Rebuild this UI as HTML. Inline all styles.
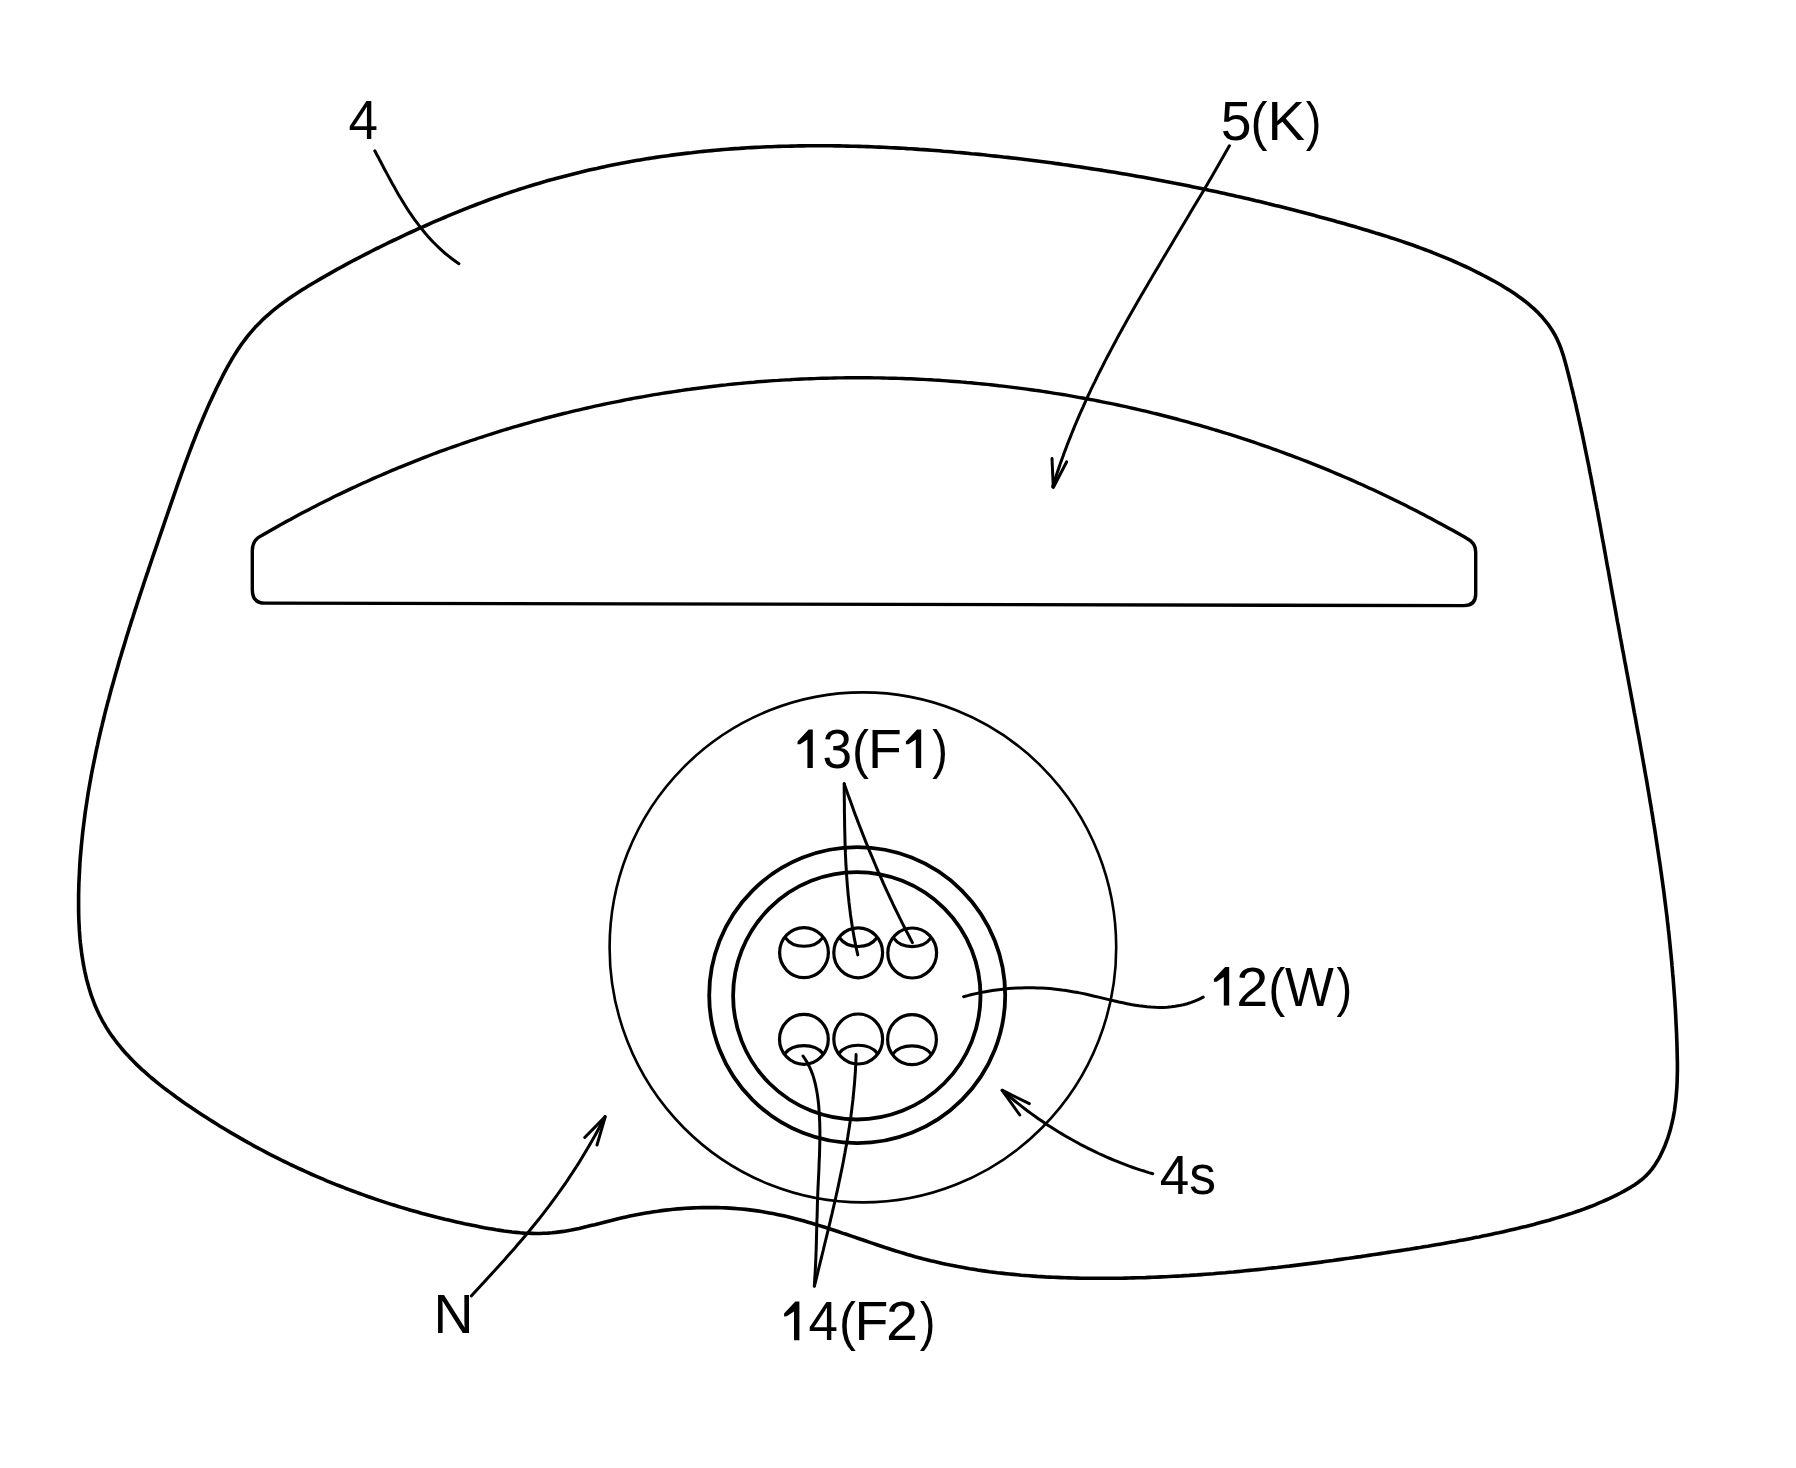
<!DOCTYPE html>
<html><head><meta charset="utf-8"><style>
html,body{margin:0;padding:0;background:#fff;}
body{width:1796px;height:1468px;overflow:hidden;}
svg{display:block;}
text{font-family:"Liberation Sans",sans-serif;font-size:100px;fill:#000;stroke:none;}
.t{fill:#000;stroke:none;}
</style></head><body>
<svg width="1796" height="1468" viewBox="0 0 1796 1468">
<g fill="none" stroke="#000" stroke-linecap="round" stroke-linejoin="round">
<path d="M78.6 895.0 L78.7 891.0 L78.8 887.0 L78.9 883.0 L79.1 879.1 L79.3 875.1 L79.5 871.1 L79.7 867.2 L79.9 863.2 L80.2 859.2 L80.5 855.3 L80.9 851.3 L81.2 847.3 L81.6 843.4 L82.0 839.4 L82.4 835.5 L82.8 831.5 L83.3 827.6 L83.8 823.6 L84.3 819.7 L84.8 815.7 L85.3 811.8 L85.9 807.9 L86.5 803.9 L87.1 800.0 L87.7 796.1 L88.3 792.1 L89.0 788.2 L89.7 784.3 L90.4 780.3 L91.1 776.4 L91.8 772.5 L92.6 768.6 L93.4 764.7 L94.2 760.7 L95.0 756.8 L95.8 752.9 L96.6 749.0 L97.5 745.1 L98.3 741.2 L99.2 737.3 L100.1 733.4 L101.0 729.5 L102.0 725.6 L102.9 721.7 L103.9 717.8 L104.8 713.9 L105.8 710.0 L106.8 706.1 L107.8 702.2 L108.9 698.4 L109.9 694.5 L110.9 690.6 L112.0 686.7 L113.1 682.9 L114.2 679.0 L115.3 675.1 L116.4 671.2 L117.5 667.4 L118.6 663.5 L119.7 659.6 L120.9 655.8 L122.0 651.9 L123.2 648.1 L124.4 644.2 L125.5 640.4 L126.7 636.5 L127.9 632.7 L129.1 628.8 L130.3 625.0 L131.5 621.1 L132.8 617.3 L134.0 613.5 L135.2 609.6 L136.5 605.8 L137.7 602.0 L139.0 598.1 L140.2 594.3 L141.5 590.5 L142.8 586.7 L144.0 582.8 L145.3 579.0 L146.6 575.2 L147.9 571.4 L149.1 567.6 L150.4 563.8 L151.7 560.0 L153.0 556.2 L154.3 552.4 L155.6 548.6 L156.9 544.8 L158.2 541.0 L159.5 537.2 L160.8 533.4 L162.1 529.6 L163.4 525.8 L164.7 522.0 L166.0 518.2 L167.3 514.5 L168.6 510.7 L169.9 506.9 L171.2 503.1 L172.5 499.4 L173.8 495.6 L175.1 491.8 L176.4 488.1 L177.7 484.3 L179.0 480.6 L180.4 476.8 L181.7 473.1 L183.1 469.3 L184.4 465.6 L185.8 461.8 L187.2 458.1 L188.6 454.4 L190.0 450.7 L191.4 447.0 L192.8 443.2 L194.3 439.5 L195.7 435.8 L197.2 432.1 L198.7 428.5 L200.2 424.8 L201.8 421.1 L203.3 417.4 L204.9 413.8 L206.5 410.1 L208.1 406.4 L209.7 402.8 L211.4 399.2 L213.1 395.5 L214.8 391.9 L216.5 388.3 L218.3 384.7 L220.1 381.1 L221.9 377.5 L223.7 373.9 L225.6 370.3 L227.5 366.8 L229.5 363.3 L231.5 359.8 L233.6 356.4 L235.7 353.0 L237.9 349.6 L240.1 346.3 L242.4 343.0 L244.8 339.8 L247.2 336.7 L249.7 333.6 L252.3 330.6 L254.9 327.6 L257.7 324.7 L260.5 321.9 L263.3 319.1 L266.3 316.4 L269.3 313.8 L272.3 311.2 L275.4 308.7 L278.6 306.2 L281.8 303.8 L285.0 301.4 L288.3 299.1 L291.6 296.8 L295.0 294.5 L298.4 292.3 L301.8 290.1 L305.2 288.0 L308.7 285.8 L312.1 283.7 L315.6 281.7 L319.1 279.6 L322.6 277.6 L326.1 275.6 L329.6 273.6 L333.1 271.6 L336.6 269.7 L340.1 267.7 L343.6 265.8 L347.1 263.9 L350.6 262.0 L354.2 260.1 L357.7 258.3 L361.2 256.5 L364.8 254.6 L368.3 252.8 L371.9 251.0 L375.4 249.2 L379.0 247.5 L382.6 245.7 L386.1 244.0 L389.7 242.2 L393.3 240.5 L396.9 238.8 L400.5 237.1 L404.1 235.4 L407.7 233.7 L411.3 232.0 L415.0 230.4 L418.6 228.7 L422.3 227.1 L425.9 225.5 L429.6 223.8 L433.2 222.2 L436.9 220.6 L440.6 219.1 L444.3 217.5 L448.0 215.9 L451.7 214.4 L455.4 212.9 L459.1 211.4 L462.8 209.9 L466.5 208.4 L470.3 206.9 L474.0 205.5 L477.7 204.0 L481.5 202.6 L485.2 201.2 L489.0 199.8 L492.8 198.4 L496.6 197.1 L500.3 195.8 L504.1 194.4 L507.9 193.1 L511.7 191.8 L515.5 190.6 L519.4 189.3 L523.2 188.1 L527.0 186.9 L530.8 185.7 L534.7 184.5 L538.5 183.4 L542.4 182.3 L546.2 181.1 L550.1 180.0 L554.0 179.0 L557.8 177.9 L561.7 176.9 L565.6 175.9 L569.5 174.9 L573.4 173.9 L577.3 172.9 L581.2 172.0 L585.1 171.0 L589.0 170.1 L592.9 169.2 L596.8 168.4 L600.7 167.5 L604.6 166.7 L608.6 165.8 L612.5 165.0 L616.4 164.3 L620.4 163.5 L624.3 162.7 L628.3 162.0 L632.2 161.3 L636.1 160.6 L640.1 159.9 L644.0 159.3 L648.0 158.6 L652.0 158.0 L655.9 157.4 L659.9 156.8 L663.8 156.2 L667.8 155.7 L671.8 155.1 L675.7 154.6 L679.7 154.1 L683.7 153.6 L687.6 153.1 L691.6 152.7 L695.6 152.2 L699.6 151.8 L703.5 151.4 L707.5 151.0 L711.5 150.6 L715.5 150.2 L719.5 149.9 L723.4 149.5 L727.4 149.2 L731.4 148.9 L735.4 148.6 L739.4 148.4 L743.4 148.1 L747.4 147.8 L751.3 147.6 L755.3 147.4 L759.3 147.2 L763.3 147.0 L767.3 146.8 L771.3 146.7 L775.3 146.5 L779.3 146.4 L783.3 146.3 L787.3 146.2 L791.3 146.1 L795.3 146.0 L799.3 145.9 L803.3 145.9 L807.3 145.8 L811.3 145.8 L815.3 145.8 L819.3 145.8 L823.3 145.8 L827.3 145.8 L831.3 145.8 L835.3 145.9 L839.3 145.9 L843.3 146.0 L847.3 146.1 L851.3 146.2 L855.3 146.3 L859.3 146.4 L863.3 146.5 L867.3 146.6 L871.3 146.8 L875.3 147.0 L879.4 147.1 L883.4 147.3 L887.4 147.5 L891.4 147.7 L895.4 147.9 L899.4 148.1 L903.4 148.3 L907.4 148.6 L911.4 148.8 L915.4 149.1 L919.4 149.4 L923.4 149.6 L927.4 149.9 L931.4 150.2 L935.4 150.5 L939.4 150.8 L943.4 151.2 L947.4 151.5 L951.4 151.8 L955.4 152.2 L959.4 152.5 L963.4 152.9 L967.4 153.3 L971.4 153.7 L975.4 154.0 L979.4 154.4 L983.4 154.8 L987.4 155.3 L991.4 155.7 L995.3 156.1 L999.3 156.5 L1003.3 157.0 L1007.3 157.4 L1011.3 157.9 L1015.3 158.3 L1019.3 158.8 L1023.3 159.3 L1027.2 159.8 L1031.2 160.3 L1035.2 160.8 L1039.2 161.3 L1043.2 161.8 L1047.1 162.3 L1051.1 162.8 L1055.1 163.4 L1059.1 163.9 L1063.0 164.5 L1067.0 165.0 L1071.0 165.6 L1074.9 166.2 L1078.9 166.8 L1082.9 167.4 L1086.8 168.0 L1090.8 168.6 L1094.8 169.2 L1098.7 169.8 L1102.7 170.4 L1106.6 171.1 L1110.6 171.7 L1114.6 172.3 L1118.5 173.0 L1122.5 173.7 L1126.4 174.3 L1130.4 175.0 L1134.3 175.7 L1138.3 176.4 L1142.2 177.1 L1146.1 177.8 L1150.1 178.5 L1154.0 179.2 L1158.0 180.0 L1161.9 180.7 L1165.8 181.5 L1169.8 182.2 L1173.7 183.0 L1177.6 183.7 L1181.6 184.5 L1185.5 185.3 L1189.4 186.1 L1193.3 186.9 L1197.3 187.7 L1201.2 188.5 L1205.1 189.3 L1209.0 190.2 L1212.9 191.0 L1216.8 191.8 L1220.8 192.7 L1224.7 193.5 L1228.6 194.4 L1232.5 195.3 L1236.4 196.2 L1240.3 197.0 L1244.2 197.9 L1248.1 198.8 L1252.0 199.7 L1255.9 200.7 L1259.8 201.6 L1263.6 202.5 L1267.5 203.5 L1271.4 204.4 L1275.3 205.4 L1279.2 206.3 L1283.1 207.3 L1286.9 208.3 L1290.8 209.3 L1294.7 210.3 L1298.5 211.3 L1302.4 212.3 L1306.3 213.3 L1310.1 214.3 L1314.0 215.3 L1317.9 216.4 L1321.7 217.4 L1325.6 218.5 L1329.4 219.5 L1333.3 220.6 L1337.1 221.7 L1341.0 222.7 L1344.8 223.8 L1348.6 224.9 L1352.5 226.0 L1356.3 227.1 L1360.1 228.3 L1364.0 229.4 L1367.8 230.5 L1371.6 231.7 L1375.4 232.9 L1379.2 234.0 L1383.0 235.2 L1386.9 236.4 L1390.7 237.7 L1394.5 238.9 L1398.2 240.1 L1402.0 241.4 L1405.8 242.7 L1409.6 244.0 L1413.3 245.3 L1417.1 246.7 L1420.9 248.1 L1424.6 249.5 L1428.4 250.9 L1432.1 252.3 L1435.8 253.8 L1439.5 255.3 L1443.3 256.8 L1447.0 258.3 L1450.7 259.9 L1454.3 261.5 L1458.0 263.2 L1461.7 264.8 L1465.4 266.5 L1469.0 268.2 L1472.7 270.0 L1476.3 271.8 L1479.9 273.6 L1483.5 275.5 L1487.1 277.4 L1490.7 279.3 L1494.3 281.3 L1497.9 283.3 L1501.4 285.3 L1504.9 287.5 L1508.4 289.6 L1511.8 291.8 L1515.2 294.1 L1518.5 296.4 L1521.8 298.8 L1525.0 301.2 L1528.1 303.7 L1531.1 306.3 L1534.1 308.9 L1537.0 311.6 L1539.7 314.4 L1542.4 317.3 L1544.9 320.3 L1547.3 323.3 L1549.6 326.4 L1551.8 329.7 L1553.8 333.0 L1555.7 336.4 L1557.4 339.9 L1559.0 343.5 L1560.5 347.2 L1561.8 351.0 L1563.1 354.8 L1564.2 358.6 L1565.3 362.5 L1566.4 366.5 L1567.4 370.4 L1568.4 374.3 L1569.4 378.2 L1570.4 382.1 L1571.3 386.1 L1572.3 390.0 L1573.2 393.9 L1574.1 397.8 L1575.1 401.7 L1576.0 405.6 L1576.8 409.5 L1577.7 413.4 L1578.6 417.3 L1579.4 421.2 L1580.3 425.1 L1581.1 429.0 L1582.0 432.9 L1582.8 436.8 L1583.6 440.7 L1584.4 444.7 L1585.2 448.6 L1586.0 452.5 L1586.8 456.4 L1587.6 460.3 L1588.4 464.2 L1589.2 468.2 L1589.9 472.1 L1590.7 476.0 L1591.5 479.9 L1592.2 483.9 L1593.0 487.8 L1593.7 491.7 L1594.5 495.7 L1595.2 499.6 L1596.0 503.5 L1596.7 507.5 L1597.5 511.4 L1598.2 515.4 L1598.9 519.3 L1599.7 523.3 L1600.4 527.2 L1601.1 531.2 L1601.8 535.1 L1602.5 539.0 L1603.3 543.0 L1604.0 546.9 L1604.7 550.9 L1605.4 554.8 L1606.1 558.8 L1606.8 562.7 L1607.5 566.7 L1608.3 570.6 L1609.0 574.6 L1609.7 578.6 L1610.4 582.5 L1611.1 586.5 L1611.8 590.4 L1612.5 594.4 L1613.2 598.3 L1614.0 602.3 L1614.7 606.2 L1615.4 610.1 L1616.1 614.1 L1616.8 618.0 L1617.5 622.0 L1618.3 625.9 L1619.0 629.9 L1619.7 633.8 L1620.4 637.8 L1621.2 641.7 L1621.9 645.6 L1622.6 649.6 L1623.4 653.5 L1624.1 657.5 L1624.8 661.4 L1625.6 665.3 L1626.3 669.3 L1627.0 673.2 L1627.8 677.1 L1628.5 681.1 L1629.2 685.0 L1630.0 689.0 L1630.7 692.9 L1631.4 696.8 L1632.2 700.8 L1632.9 704.7 L1633.6 708.6 L1634.3 712.6 L1635.1 716.5 L1635.8 720.4 L1636.5 724.4 L1637.2 728.3 L1637.9 732.2 L1638.7 736.2 L1639.4 740.1 L1640.1 744.0 L1640.8 748.0 L1641.5 751.9 L1642.2 755.8 L1642.9 759.8 L1643.6 763.7 L1644.3 767.6 L1645.0 771.6 L1645.7 775.5 L1646.4 779.4 L1647.1 783.4 L1647.7 787.3 L1648.4 791.3 L1649.1 795.2 L1649.7 799.1 L1650.4 803.1 L1651.1 807.0 L1651.7 811.0 L1652.4 814.9 L1653.0 818.9 L1653.6 822.8 L1654.3 826.7 L1654.9 830.7 L1655.5 834.6 L1656.1 838.6 L1656.7 842.5 L1657.3 846.5 L1657.9 850.4 L1658.5 854.4 L1659.1 858.4 L1659.7 862.3 L1660.3 866.3 L1660.8 870.2 L1661.4 874.2 L1661.9 878.1 L1662.5 882.1 L1663.0 886.1 L1663.6 890.0 L1664.1 894.0 L1664.6 898.0 L1665.1 901.9 L1665.6 905.9 L1666.1 909.9 L1666.6 913.9 L1667.1 917.8 L1667.5 921.8 L1668.0 925.8 L1668.4 929.8 L1668.9 933.8 L1669.3 937.8 L1669.7 941.7 L1670.1 945.7 L1670.5 949.7 L1670.9 953.7 L1671.3 957.7 L1671.7 961.7 L1672.0 965.7 L1672.4 969.7 L1672.7 973.7 L1673.1 977.7 L1673.4 981.8 L1673.7 985.8 L1674.0 989.8 L1674.3 993.8 L1674.6 997.8 L1674.9 1001.8 L1675.1 1005.9 L1675.4 1009.9 L1675.6 1013.9 L1675.8 1018.0 L1676.0 1022.0 L1676.2 1026.0 L1676.4 1030.1 L1676.6 1034.1 L1676.7 1038.2 L1676.9 1042.2 L1677.0 1046.3 L1677.1 1050.3 L1677.2 1054.4 L1677.3 1058.4 L1677.4 1062.5 L1677.4 1066.5 L1677.4 1070.6 L1677.3 1074.6 L1677.2 1078.6 L1677.1 1082.7 L1676.9 1086.7 L1676.6 1090.7 L1676.3 1094.7 L1676.0 1098.6 L1675.5 1102.6 L1675.0 1106.5 L1674.5 1110.5 L1673.8 1114.4 L1673.1 1118.2 L1672.2 1122.1 L1671.3 1125.9 L1670.3 1129.7 L1669.2 1133.5 L1668.0 1137.3 L1666.7 1141.0 L1665.3 1144.7 L1663.8 1148.3 L1662.1 1152.0 L1660.4 1155.6 L1658.5 1159.1 L1656.4 1162.5 L1654.3 1165.9 L1651.9 1169.1 L1649.4 1172.2 L1646.7 1175.1 L1643.8 1177.8 L1640.8 1180.3 L1637.6 1182.7 L1634.4 1184.9 L1631.0 1187.1 L1627.5 1189.1 L1624.0 1191.1 L1620.5 1193.0 L1616.9 1194.8 L1613.3 1196.6 L1609.7 1198.3 L1606.0 1200.0 L1602.3 1201.7 L1598.6 1203.2 L1594.9 1204.8 L1591.2 1206.3 L1587.4 1207.7 L1583.7 1209.1 L1579.9 1210.5 L1576.1 1211.8 L1572.3 1213.1 L1568.5 1214.3 L1564.6 1215.6 L1560.8 1216.7 L1556.9 1217.9 L1553.1 1219.0 L1549.2 1220.2 L1545.3 1221.2 L1541.4 1222.3 L1537.6 1223.3 L1533.7 1224.4 L1529.8 1225.4 L1525.9 1226.4 L1522.0 1227.3 L1518.1 1228.3 L1514.2 1229.2 L1510.3 1230.1 L1506.4 1231.0 L1502.5 1231.9 L1498.6 1232.8 L1494.7 1233.6 L1490.8 1234.4 L1486.9 1235.3 L1482.9 1236.1 L1479.0 1236.9 L1475.1 1237.6 L1471.2 1238.4 L1467.2 1239.2 L1463.3 1239.9 L1459.4 1240.6 L1455.5 1241.4 L1451.5 1242.1 L1447.6 1242.8 L1443.7 1243.5 L1439.7 1244.2 L1435.8 1244.8 L1431.8 1245.5 L1427.9 1246.2 L1423.9 1246.8 L1420.0 1247.5 L1416.0 1248.1 L1412.1 1248.7 L1408.2 1249.4 L1404.2 1250.0 L1400.2 1250.6 L1396.3 1251.2 L1392.3 1251.8 L1388.4 1252.4 L1384.4 1253.0 L1380.5 1253.6 L1376.5 1254.2 L1372.5 1254.8 L1368.6 1255.4 L1364.6 1256.0 L1360.7 1256.6 L1356.7 1257.1 L1352.7 1257.7 L1348.8 1258.3 L1344.8 1258.8 L1340.8 1259.4 L1336.9 1259.9 L1332.9 1260.5 L1328.9 1261.0 L1324.9 1261.5 L1321.0 1262.1 L1317.0 1262.6 L1313.0 1263.1 L1309.1 1263.6 L1305.1 1264.1 L1301.1 1264.6 L1297.1 1265.1 L1293.1 1265.6 L1289.2 1266.1 L1285.2 1266.5 L1281.2 1267.0 L1277.2 1267.5 L1273.2 1267.9 L1269.3 1268.3 L1265.3 1268.8 L1261.3 1269.2 L1257.3 1269.6 L1253.3 1270.0 L1249.3 1270.4 L1245.3 1270.8 L1241.3 1271.2 L1237.4 1271.6 L1233.4 1272.0 L1229.4 1272.3 L1225.4 1272.7 L1221.4 1273.0 L1217.4 1273.3 L1213.4 1273.7 L1209.4 1274.0 L1205.4 1274.3 L1201.4 1274.6 L1197.4 1274.9 L1193.4 1275.1 L1189.4 1275.4 L1185.4 1275.6 L1181.4 1275.9 L1177.4 1276.1 L1173.4 1276.3 L1169.4 1276.5 L1165.4 1276.7 L1161.4 1276.9 L1157.4 1277.1 L1153.4 1277.3 L1149.4 1277.4 L1145.4 1277.6 L1141.4 1277.7 L1137.4 1277.8 L1133.4 1277.9 L1129.4 1278.0 L1125.4 1278.1 L1121.4 1278.2 L1117.4 1278.2 L1113.4 1278.3 L1109.4 1278.3 L1105.4 1278.3 L1101.4 1278.3 L1097.3 1278.3 L1093.3 1278.3 L1089.3 1278.3 L1085.3 1278.2 L1081.3 1278.2 L1077.3 1278.1 L1073.3 1278.0 L1069.3 1277.9 L1065.3 1277.8 L1061.3 1277.6 L1057.3 1277.4 L1053.3 1277.3 L1049.3 1277.1 L1045.3 1276.9 L1041.3 1276.6 L1037.3 1276.4 L1033.3 1276.1 L1029.3 1275.8 L1025.3 1275.5 L1021.3 1275.2 L1017.3 1274.8 L1013.3 1274.4 L1009.3 1274.0 L1005.4 1273.6 L1001.4 1273.1 L997.4 1272.7 L993.5 1272.2 L989.5 1271.7 L985.5 1271.1 L981.6 1270.6 L977.6 1270.0 L973.7 1269.3 L969.7 1268.7 L965.8 1268.0 L961.9 1267.3 L957.9 1266.6 L954.0 1265.8 L950.1 1265.1 L946.2 1264.3 L942.3 1263.4 L938.4 1262.5 L934.5 1261.6 L930.6 1260.7 L926.7 1259.7 L922.8 1258.8 L919.0 1257.7 L915.1 1256.7 L911.2 1255.6 L907.4 1254.5 L903.6 1253.3 L899.7 1252.1 L895.9 1251.0 L892.0 1249.7 L888.2 1248.5 L884.4 1247.3 L880.6 1246.0 L876.8 1244.7 L872.9 1243.4 L869.1 1242.1 L865.3 1240.8 L861.5 1239.5 L857.7 1238.2 L853.9 1236.9 L850.1 1235.6 L846.3 1234.3 L842.4 1233.1 L838.6 1231.8 L834.8 1230.5 L831.0 1229.3 L827.2 1228.0 L823.3 1226.8 L819.5 1225.6 L815.7 1224.4 L811.8 1223.3 L808.0 1222.2 L804.2 1221.1 L800.3 1220.0 L796.4 1219.0 L792.6 1218.0 L788.7 1217.0 L784.8 1216.1 L780.9 1215.2 L777.0 1214.4 L773.1 1213.6 L769.2 1212.9 L765.3 1212.2 L761.4 1211.5 L757.4 1210.9 L753.5 1210.4 L749.5 1209.9 L745.6 1209.4 L741.6 1209.0 L737.6 1208.7 L733.7 1208.4 L729.7 1208.1 L725.7 1207.9 L721.7 1207.8 L717.7 1207.6 L713.7 1207.6 L709.7 1207.5 L705.7 1207.6 L701.7 1207.6 L697.7 1207.7 L693.7 1207.9 L689.7 1208.1 L685.7 1208.3 L681.7 1208.6 L677.7 1208.9 L673.7 1209.3 L669.7 1209.7 L665.7 1210.1 L661.7 1210.6 L657.7 1211.2 L653.7 1211.7 L649.7 1212.4 L645.8 1213.0 L641.8 1213.7 L637.8 1214.5 L633.9 1215.2 L629.9 1216.1 L626.0 1216.9 L622.1 1217.8 L618.1 1218.7 L614.2 1219.7 L610.3 1220.7 L606.4 1221.7 L602.5 1222.7 L598.6 1223.7 L594.7 1224.7 L590.8 1225.6 L586.9 1226.6 L583.0 1227.5 L579.1 1228.4 L575.2 1229.2 L571.4 1230.0 L567.4 1230.7 L563.5 1231.4 L559.6 1231.9 L555.7 1232.4 L551.8 1232.8 L547.8 1233.1 L543.9 1233.3 L539.9 1233.5 L536.0 1233.5 L532.0 1233.4 L528.0 1233.3 L524.1 1233.1 L520.1 1232.8 L516.1 1232.4 L512.1 1232.0 L508.1 1231.5 L504.1 1231.0 L500.2 1230.4 L496.2 1229.8 L492.2 1229.1 L488.2 1228.4 L484.2 1227.7 L480.3 1226.9 L476.3 1226.1 L472.3 1225.3 L468.4 1224.5 L464.4 1223.7 L460.5 1222.8 L456.6 1221.9 L452.6 1221.0 L448.7 1220.1 L444.8 1219.2 L440.9 1218.2 L437.0 1217.3 L433.1 1216.3 L429.2 1215.3 L425.3 1214.2 L421.4 1213.2 L417.5 1212.1 L413.7 1211.0 L409.8 1209.9 L406.0 1208.8 L402.1 1207.6 L398.3 1206.5 L394.5 1205.3 L390.6 1204.1 L386.8 1202.9 L383.0 1201.6 L379.2 1200.4 L375.4 1199.1 L371.6 1197.8 L367.8 1196.5 L364.1 1195.1 L360.3 1193.8 L356.6 1192.4 L352.8 1191.0 L349.1 1189.6 L345.3 1188.2 L341.6 1186.7 L337.9 1185.3 L334.2 1183.8 L330.5 1182.3 L326.8 1180.8 L323.1 1179.2 L319.4 1177.6 L315.8 1176.1 L312.1 1174.5 L308.5 1172.8 L304.8 1171.2 L301.2 1169.5 L297.5 1167.9 L293.9 1166.2 L290.3 1164.5 L286.7 1162.7 L283.1 1161.0 L279.5 1159.2 L276.0 1157.4 L272.4 1155.6 L268.9 1153.8 L265.3 1151.9 L261.8 1150.0 L258.2 1148.2 L254.7 1146.3 L251.2 1144.3 L247.7 1142.4 L244.2 1140.4 L240.7 1138.4 L237.3 1136.4 L233.8 1134.4 L230.3 1132.4 L226.9 1130.3 L223.5 1128.3 L220.0 1126.2 L216.6 1124.0 L213.2 1121.9 L209.8 1119.8 L206.4 1117.6 L203.1 1115.4 L199.7 1113.2 L196.3 1111.0 L193.0 1108.7 L189.7 1106.4 L186.3 1104.2 L183.0 1101.9 L179.7 1099.5 L176.4 1097.2 L173.2 1094.8 L169.9 1092.4 L166.7 1090.0 L163.5 1087.6 L160.3 1085.1 L157.2 1082.6 L154.1 1080.0 L151.0 1077.5 L148.0 1074.9 L145.0 1072.2 L142.0 1069.6 L139.1 1066.9 L136.2 1064.1 L133.4 1061.3 L130.7 1058.5 L128.0 1055.6 L125.3 1052.7 L122.7 1049.7 L120.2 1046.7 L117.7 1043.7 L115.3 1040.5 L113.0 1037.4 L110.7 1034.2 L108.5 1030.9 L106.4 1027.6 L104.4 1024.2 L102.4 1020.8 L100.6 1017.3 L98.8 1013.7 L97.1 1010.1 L95.5 1006.5 L94.0 1002.7 L92.6 998.9 L91.2 995.1 L90.0 991.2 L88.8 987.3 L87.7 983.3 L86.6 979.4 L85.7 975.3 L84.8 971.3 L84.0 967.3 L83.2 963.2 L82.6 959.2 L81.9 955.1 L81.4 951.1 L80.9 947.0 L80.4 943.0 L80.0 939.0 L79.7 934.9 L79.4 930.9 L79.2 926.9 L79.0 922.9 L78.8 918.9 L78.7 914.9 L78.6 910.9 L78.6 906.9 L78.6 902.9 L78.6 899.0 L78.6 895.0 Z" stroke-width="3.6"/>
<path d="M262.2 535.3 L265.7 533.2 L269.2 531.2 L272.7 529.2 L276.2 527.2 L279.7 525.2 L283.3 523.3 L286.8 521.3 L290.4 519.4 L293.9 517.4 L297.5 515.5 L301.1 513.6 L304.6 511.7 L308.2 509.9 L311.8 508.0 L315.4 506.2 L319.0 504.3 L322.6 502.5 L326.2 500.7 L329.8 498.9 L333.4 497.1 L337.1 495.3 L340.7 493.6 L344.3 491.9 L348.0 490.1 L351.6 488.4 L355.3 486.7 L358.9 485.0 L362.6 483.3 L366.3 481.7 L370.0 480.0 L373.6 478.4 L377.3 476.8 L381.0 475.2 L384.7 473.6 L388.4 472.0 L392.1 470.4 L395.9 468.9 L399.6 467.3 L403.3 465.8 L407.0 464.3 L410.8 462.8 L414.5 461.3 L418.3 459.8 L422.0 458.4 L425.8 456.9 L429.5 455.5 L433.3 454.0 L437.0 452.6 L440.8 451.2 L444.6 449.9 L448.4 448.5 L452.2 447.1 L456.0 445.8 L459.8 444.5 L463.6 443.1 L467.4 441.8 L471.2 440.5 L475.0 439.3 L478.8 438.0 L482.6 436.8 L486.5 435.5 L490.3 434.3 L494.1 433.1 L498.0 431.9 L501.8 430.7 L505.6 429.5 L509.5 428.4 L513.3 427.2 L517.2 426.1 L521.1 425.0 L524.9 423.9 L528.8 422.8 L532.7 421.7 L536.5 420.6 L540.4 419.6 L544.3 418.5 L548.2 417.5 L552.1 416.5 L556.0 415.5 L559.9 414.5 L563.8 413.5 L567.7 412.6 L571.6 411.6 L575.5 410.7 L579.4 409.8 L583.3 408.9 L587.2 408.0 L591.2 407.1 L595.1 406.2 L599.0 405.3 L602.9 404.5 L606.9 403.7 L610.8 402.9 L614.7 402.1 L618.7 401.3 L622.6 400.5 L626.6 399.7 L630.5 399.0 L634.5 398.2 L638.4 397.5 L642.4 396.8 L646.3 396.1 L650.3 395.4 L654.3 394.7 L658.2 394.1 L662.2 393.4 L666.2 392.8 L670.1 392.2 L674.1 391.6 L678.1 391.0 L682.1 390.4 L686.0 389.8 L690.0 389.3 L694.0 388.7 L698.0 388.2 L702.0 387.7 L706.0 387.2 L710.0 386.7 L713.9 386.2 L717.9 385.8 L721.9 385.3 L725.9 384.9 L729.9 384.4 L733.9 384.0 L737.9 383.6 L741.9 383.3 L745.9 382.9 L749.9 382.5 L753.9 382.2 L757.9 381.8 L762.0 381.5 L766.0 381.2 L770.0 380.9 L774.0 380.6 L778.0 380.4 L782.0 380.1 L786.0 379.9 L790.0 379.7 L794.1 379.4 L798.1 379.2 L802.1 379.0 L806.1 378.9 L810.1 378.7 L814.1 378.6 L818.2 378.4 L822.2 378.3 L826.2 378.2 L830.2 378.1 L834.2 378.0 L838.3 377.9 L842.3 377.9 L846.3 377.8 L850.3 377.8 L854.3 377.8 L858.4 377.8 L862.4 377.8 L866.4 377.8 L870.4 377.8 L874.5 377.9 L878.5 377.9 L882.5 378.0 L886.5 378.1 L890.5 378.2 L894.6 378.3 L898.6 378.4 L902.6 378.5 L906.6 378.7 L910.6 378.8 L914.7 379.0 L918.7 379.2 L922.7 379.4 L926.7 379.6 L930.7 379.8 L934.8 380.1 L938.8 380.3 L942.8 380.6 L946.8 380.9 L950.8 381.2 L954.8 381.5 L958.8 381.8 L962.8 382.1 L966.8 382.5 L970.9 382.8 L974.9 383.2 L978.9 383.6 L982.9 384.0 L986.9 384.4 L990.9 384.8 L994.9 385.2 L998.9 385.7 L1002.9 386.1 L1006.9 386.6 L1010.9 387.1 L1014.8 387.6 L1018.8 388.1 L1022.8 388.6 L1026.8 389.1 L1030.8 389.7 L1034.8 390.3 L1038.8 390.8 L1042.7 391.4 L1046.7 392.0 L1050.7 392.6 L1054.7 393.3 L1058.6 393.9 L1062.6 394.5 L1066.6 395.2 L1070.5 395.9 L1074.5 396.6 L1078.5 397.3 L1082.4 398.0 L1086.4 398.7 L1090.3 399.5 L1094.3 400.2 L1098.2 401.0 L1102.2 401.8 L1106.1 402.6 L1110.1 403.4 L1114.0 404.2 L1117.9 405.0 L1121.9 405.9 L1125.8 406.7 L1129.7 407.6 L1133.7 408.5 L1137.6 409.4 L1141.5 410.3 L1145.4 411.2 L1149.3 412.1 L1153.2 413.1 L1157.1 414.0 L1161.0 415.0 L1164.9 416.0 L1168.8 417.0 L1172.7 418.0 L1176.6 419.0 L1180.5 420.1 L1184.4 421.1 L1188.3 422.2 L1192.2 423.3 L1196.0 424.3 L1199.9 425.4 L1203.8 426.6 L1207.6 427.7 L1211.5 428.8 L1215.3 430.0 L1219.2 431.1 L1223.0 432.3 L1226.9 433.5 L1230.7 434.7 L1234.6 435.9 L1238.4 437.1 L1242.2 438.4 L1246.0 439.6 L1249.9 440.9 L1253.7 442.2 L1257.5 443.5 L1261.3 444.8 L1265.1 446.1 L1268.9 447.4 L1272.7 448.8 L1276.5 450.1 L1280.2 451.5 L1284.0 452.9 L1287.8 454.3 L1291.6 455.7 L1295.3 457.1 L1299.1 458.5 L1302.9 460.0 L1306.6 461.4 L1310.4 462.9 L1314.1 464.4 L1317.8 465.9 L1321.6 467.4 L1325.3 468.9 L1329.0 470.4 L1332.7 472.0 L1336.4 473.6 L1340.1 475.1 L1343.8 476.7 L1347.5 478.3 L1351.2 479.9 L1354.9 481.5 L1358.6 483.2 L1362.3 484.8 L1365.9 486.5 L1369.6 488.2 L1373.3 489.8 L1376.9 491.5 L1380.6 493.3 L1384.2 495.0 L1387.8 496.7 L1391.5 498.5 L1395.1 500.2 L1398.7 502.0 L1402.3 503.8 L1405.9 505.6 L1409.5 507.4 L1413.1 509.2 L1416.7 511.1 L1420.3 512.9 L1423.9 514.8 L1427.4 516.7 L1431.0 518.5 L1434.5 520.4 L1438.1 522.4 L1441.6 524.3 L1445.2 526.2 L1448.7 528.2 L1452.2 530.1 L1455.7 532.1 L1459.3 534.1 L1462.8 536.1 L1466.3 538.1 Q1475.7 542.5 1475.7 552 L1475.7 594 Q1475.7 605.6 1464 605.6 L265 603.1 Q252.3 603.1 252.3 590 L252.3 550.7 Q252.3 539.5 262.2 535.3 Z" stroke-width="3.4"/>
<ellipse cx="862.9" cy="947.4" rx="253.3" ry="255" stroke-width="2.6"/>
<circle cx="857.2" cy="995.2" r="148" stroke-width="3.8"/>
<circle cx="856.8" cy="995.8" r="123.7" stroke-width="3.8"/>
<ellipse cx="804.0" cy="952.6" rx="24.4" ry="25" stroke-width="3.2"/>
<path d="M785.5 937.8 C793.5 949.1 814.5 949.1 822.5 937.8" stroke-width="3.2"/>
<ellipse cx="858.2" cy="952.8" rx="24.4" ry="25" stroke-width="3.2"/>
<path d="M839.7 938.0 C847.7 949.3 868.7 949.3 876.7 938.0" stroke-width="3.2"/>
<ellipse cx="912.2" cy="953.0" rx="24.4" ry="25" stroke-width="3.2"/>
<path d="M893.7 938.2 C901.7 949.5 922.7 949.5 930.7 938.2" stroke-width="3.2"/>
<ellipse cx="803.9" cy="1039.3" rx="24.4" ry="25" stroke-width="3.2"/>
<path d="M784.9 1053.5 C792.9 1042.9 814.9 1042.9 822.9 1053.5" stroke-width="3.2"/>
<ellipse cx="858.2" cy="1039.0" rx="24.4" ry="25" stroke-width="3.2"/>
<path d="M839.2 1053.2 C847.2 1042.6 869.2 1042.6 877.2 1053.2" stroke-width="3.2"/>
<ellipse cx="912.0" cy="1039.6" rx="24.4" ry="25" stroke-width="3.2"/>
<path d="M893.0 1053.8 C901.0 1043.2 923.0 1043.2 931.0 1053.8" stroke-width="3.2"/>
<path d="M374.8 150.8 L376.7 154.5 L378.7 158.1 L380.6 161.8 L382.6 165.5 L384.5 169.2 L386.5 172.9 L388.5 176.6 L390.5 180.3 L392.5 184.0 L394.6 187.6 L396.6 191.3 L398.7 194.9 L400.9 198.5 L403.1 202.1 L405.3 205.7 L407.5 209.2 L409.8 212.7 L412.2 216.1 L414.6 219.6 L417.1 222.9 L419.6 226.3 L422.2 229.5 L424.8 232.7 L427.5 235.9 L430.3 239.0 L433.1 242.0 L436.1 245.0 L439.1 247.9 L442.1 250.7 L445.3 253.5 L448.6 256.2 L451.9 258.8 L455.4 261.3 L458.9 263.7" stroke-width="3.0"/>
<path d="M1229.4 145.7 L1227.4 149.2 L1225.4 152.7 L1223.4 156.2 L1221.4 159.7 L1219.4 163.2 L1217.4 166.7 L1215.4 170.2 L1213.4 173.7 L1211.4 177.2 L1209.3 180.7 L1207.3 184.2 L1205.2 187.7 L1203.2 191.2 L1201.1 194.7 L1199.0 198.2 L1197.0 201.6 L1194.9 205.1 L1192.8 208.6 L1190.7 212.1 L1188.7 215.6 L1186.6 219.1 L1184.5 222.5 L1182.4 226.0 L1180.3 229.5 L1178.2 233.0 L1176.1 236.5 L1174.0 240.0 L1172.0 243.4 L1169.9 246.9 L1167.8 250.4 L1165.7 253.9 L1163.6 257.4 L1161.5 260.9 L1159.5 264.4 L1157.4 267.9 L1155.3 271.4 L1153.2 274.9 L1151.2 278.4 L1149.1 281.9 L1147.1 285.4 L1145.0 288.9 L1143.0 292.4 L1140.9 295.9 L1138.9 299.4 L1136.9 303.0 L1134.9 306.5 L1132.9 310.0 L1130.9 313.5 L1128.9 317.1 L1126.9 320.6 L1124.9 324.2 L1122.9 327.7 L1121.0 331.3 L1119.0 334.8 L1117.1 338.4 L1115.2 342.0 L1113.3 345.5 L1111.4 349.1 L1109.5 352.7 L1107.6 356.3 L1105.7 359.9 L1103.9 363.5 L1102.1 367.1 L1100.2 370.7 L1098.4 374.3 L1096.6 378.0 L1094.9 381.6 L1093.1 385.2 L1091.3 388.9 L1089.6 392.6 L1087.9 396.2 L1086.2 399.9 L1084.5 403.6 L1082.9 407.3 L1081.2 411.0 L1079.6 414.7 L1078.0 418.4 L1076.4 422.1 L1074.8 425.8 L1073.3 429.6 L1071.8 433.3 L1070.3 437.1 L1068.8 440.8 L1067.3 444.6 L1065.9 448.4 L1064.4 452.2 L1063.1 456.0 L1061.7 459.8 L1060.3 463.6 L1059.0 467.5 L1057.7 471.3 L1056.4 475.2 L1055.2 479.0 L1053.9 482.9 L1052.7 486.8" stroke-width="3.0"/>
<path d="M1002.3 1090.4 L1005.4 1093.1 L1008.6 1095.8 L1011.7 1098.4 L1014.9 1101.0 L1018.2 1103.6 L1021.4 1106.1 L1024.7 1108.7 L1028.0 1111.2 L1031.3 1113.6 L1034.6 1116.0 L1038.0 1118.4 L1041.4 1120.8 L1044.8 1123.1 L1048.3 1125.4 L1051.7 1127.6 L1055.2 1129.8 L1058.7 1132.0 L1062.3 1134.1 L1065.8 1136.2 L1069.4 1138.3 L1073.0 1140.3 L1076.6 1142.3 L1080.2 1144.3 L1083.9 1146.2 L1087.6 1148.1 L1091.3 1149.9 L1095.0 1151.7 L1098.7 1153.5 L1102.5 1155.2 L1106.2 1156.9 L1110.0 1158.5 L1113.8 1160.1 L1117.7 1161.7 L1121.5 1163.2 L1125.4 1164.6 L1129.2 1166.1 L1133.1 1167.5 L1137.0 1168.8 L1140.9 1170.1 L1144.9 1171.3 L1148.8 1172.6 L1152.8 1173.7" stroke-width="3.0"/>
<path d="M604.8 1116.8 L603.0 1120.5 L601.1 1124.1 L599.2 1127.7 L597.3 1131.3 L595.3 1134.9 L593.3 1138.5 L591.3 1142.1 L589.3 1145.6 L587.2 1149.1 L585.1 1152.6 L583.0 1156.1 L580.9 1159.6 L578.7 1163.1 L576.5 1166.5 L574.3 1169.9 L572.1 1173.3 L569.8 1176.7 L567.6 1180.1 L565.3 1183.5 L562.9 1186.8 L560.6 1190.1 L558.2 1193.5 L555.8 1196.8 L553.4 1200.1 L551.0 1203.3 L548.6 1206.6 L546.1 1209.8 L543.6 1213.1 L541.1 1216.3 L538.6 1219.5 L536.0 1222.7 L533.5 1225.8 L530.9 1229.0 L528.3 1232.1 L525.7 1235.3 L523.0 1238.4 L520.4 1241.5 L517.7 1244.6 L515.1 1247.7 L512.4 1250.7 L509.7 1253.8 L507.0 1256.8 L504.3 1259.9 L501.5 1262.9 L498.8 1266.0 L496.1 1269.0 L493.3 1272.0 L490.6 1275.0 L487.8 1278.0 L485.1 1281.0 L482.3 1284.0 L479.5 1287.0 L476.8 1290.0 L474.0 1293.0 L471.3 1296.0" stroke-width="3.0"/>
<path d="M963.6 996.7 L967.7 995.6 L971.8 994.5 L975.9 993.6 L980.0 992.7 L984.1 991.9 L988.2 991.2 L992.3 990.5 L996.4 989.9 L1000.5 989.4 L1004.6 988.9 L1008.7 988.6 L1012.8 988.3 L1016.9 988.0 L1021.0 987.9 L1025.1 987.8 L1029.2 987.7 L1033.3 987.8 L1037.3 987.9 L1041.4 988.1 L1045.5 988.3 L1049.6 988.6 L1053.7 989.0 L1057.8 989.4 L1061.9 990.0 L1066.0 990.5 L1070.0 991.2 L1074.1 991.9 L1078.2 992.6 L1082.3 993.4 L1086.4 994.3 L1090.4 995.2 L1094.5 996.2 L1098.6 997.1 L1102.6 998.1 L1106.7 999.1 L1110.8 1000.1 L1114.8 1001.0 L1118.9 1002.0 L1122.9 1002.8 L1127.0 1003.7 L1131.0 1004.5 L1135.1 1005.2 L1139.1 1005.8 L1143.2 1006.3 L1147.2 1006.8 L1151.2 1007.1 L1155.3 1007.3 L1159.3 1007.4 L1163.3 1007.4 L1167.3 1007.2 L1171.3 1006.8 L1175.3 1006.3 L1179.3 1005.6 L1183.3 1004.7 L1187.3 1003.7 L1191.3 1002.4 L1195.3 1000.8 L1199.3 999.1 L1203.2 997.1" stroke-width="3.0"/>
<path d="M844.2 783.7 L844.2 787.8 L844.2 791.9 L844.3 796.0 L844.3 800.0 L844.4 804.1 L844.4 808.2 L844.4 812.3 L844.5 816.4 L844.6 820.5 L844.6 824.6 L844.7 828.7 L844.8 832.8 L844.9 837.0 L845.0 841.1 L845.1 845.2 L845.3 849.3 L845.4 853.4 L845.6 857.5 L845.8 861.6 L846.0 865.7 L846.3 869.8 L846.5 873.9 L846.8 878.0 L847.1 882.1 L847.4 886.1 L847.8 890.2 L848.1 894.3 L848.6 898.4 L849.0 902.5 L849.5 906.5 L850.0 910.6 L850.5 914.7 L851.1 918.7 L851.7 922.8 L852.3 926.8 L853.0 930.8 L853.7 934.9 L854.4 938.9 L855.2 942.9 L856.0 946.9 L856.9 950.9 L857.8 954.9" stroke-width="3.0"/>
<path d="M844.2 783.7 L845.5 787.6 L846.9 791.5 L848.3 795.4 L849.7 799.2 L851.1 803.1 L852.5 807.0 L853.9 810.9 L855.3 814.7 L856.8 818.6 L858.2 822.4 L859.7 826.3 L861.2 830.1 L862.7 834.0 L864.2 837.8 L865.7 841.6 L867.3 845.5 L868.8 849.3 L870.4 853.1 L872.0 856.9 L873.6 860.7 L875.2 864.5 L876.8 868.3 L878.4 872.1 L880.1 875.8 L881.8 879.6 L883.4 883.4 L885.1 887.1 L886.8 890.9 L888.6 894.6 L890.3 898.4 L892.1 902.1 L893.8 905.8 L895.6 909.5 L897.4 913.2 L899.2 916.9 L901.1 920.6 L902.9 924.3 L904.8 928.0 L906.7 931.7 L908.6 935.3 L910.5 939.0 L912.4 942.6" stroke-width="3.0"/>
<path d="M803.0 1056.0 L805.4 1059.5 L807.5 1063.0 L809.4 1066.7 L811.0 1070.4 L812.5 1074.1 L813.7 1077.9 L814.8 1081.8 L815.7 1085.7 L816.5 1089.7 L817.2 1093.6 L817.8 1097.7 L818.3 1101.7 L818.7 1105.7 L819.0 1109.8 L819.3 1113.8 L819.5 1117.9 L819.7 1122.0 L819.8 1126.1 L819.9 1130.2 L819.9 1134.3 L819.9 1138.5 L819.8 1142.6 L819.7 1146.7 L819.6 1150.9 L819.5 1155.0 L819.3 1159.1 L819.1 1163.3 L819.0 1167.4 L818.8 1171.5 L818.6 1175.7 L818.4 1179.8 L818.2 1183.9 L818.0 1188.0 L817.8 1192.2 L817.7 1196.3 L817.5 1200.3 L817.4 1204.4 L817.3 1208.5 L817.2 1212.6 L817.1 1216.7 L816.9 1220.7 L816.8 1224.8 L816.7 1228.9 L816.6 1232.9 L816.5 1237.0 L816.4 1241.1 L816.3 1245.1 L816.2 1249.2 L816.0 1253.3 L815.9 1257.4 L815.7 1261.5 L815.5 1265.6 L815.3 1269.7 L815.1 1273.8 L814.8 1277.9 L814.6 1282.0 L814.3 1286.1" stroke-width="3.0"/>
<path d="M856.1 1054.6 L856.0 1058.7 L855.8 1062.9 L855.6 1067.0 L855.4 1071.1 L855.1 1075.3 L854.8 1079.4 L854.5 1083.5 L854.1 1087.6 L853.7 1091.8 L853.3 1095.9 L852.9 1100.0 L852.4 1104.1 L851.9 1108.2 L851.4 1112.3 L850.9 1116.4 L850.3 1120.5 L849.7 1124.5 L849.1 1128.6 L848.4 1132.7 L847.8 1136.8 L847.1 1140.9 L846.4 1144.9 L845.6 1149.0 L844.9 1153.1 L844.1 1157.2 L843.4 1161.2 L842.6 1165.3 L841.8 1169.3 L840.9 1173.4 L840.1 1177.4 L839.2 1181.5 L838.4 1185.5 L837.5 1189.6 L836.6 1193.6 L835.7 1197.7 L834.8 1201.7 L833.9 1205.7 L832.9 1209.8 L832.0 1213.8 L831.0 1217.8 L830.1 1221.9 L829.1 1225.9 L828.2 1229.9 L827.2 1233.9 L826.2 1238.0 L825.2 1242.0 L824.2 1246.0 L823.3 1250.0 L822.3 1254.0 L821.3 1258.1 L820.3 1262.1 L819.3 1266.1 L818.3 1270.1 L817.4 1274.1 L816.4 1278.1 L815.4 1282.1 L814.4 1286.1" stroke-width="3.0"/>
<path d="M1052.0 458.5 L1053.3 487.5 L1066.7 461.8" stroke-width="3.0"/>
<path d="M1029.3 1103.7 L1002.0 1090.2 L1019.8 1115.0" stroke-width="3.0"/>
<path d="M584.7 1137.5 L605.3 1116.6 L597.0 1145.0" stroke-width="3.0"/>
</g>
<g class="txt"><text transform="translate(348.43 138.90) scale(0.530 0.561)">4</text><text transform="translate(1220.79 139.90) scale(0.553 0.561)">5</text><text transform="translate(1250.51 139.90) scale(0.510 0.533)">(</text><text transform="translate(1267.50 139.90) scale(0.563 0.561)">K</text><text transform="translate(1305.77 139.90) scale(0.470 0.533)">)</text><path class="t" d="M812.8 729.5 L812.8 768.1 L807.4 768.1 L807.4 739.4 L800.2 744.2 L797.5 744.3 L797.5 741.5 L808.7 729.5 Z"/><text transform="translate(822.57 768.10) scale(0.532 0.561)">3</text><text transform="translate(852.06 768.10) scale(0.510 0.533)">(</text><text transform="translate(867.96 768.10) scale(0.555 0.561)">F</text><text transform="translate(932.22 768.10) scale(0.470 0.533)">)</text><path class="t" d="M921.2 729.5 L921.2 768.1 L915.8 768.1 L915.8 739.4 L908.6 744.2 L905.9 744.3 L905.9 741.5 L917.1 729.5 Z"/><path class="t" d="M1229.2 967.0 L1229.2 1005.6 L1223.8 1005.6 L1223.8 976.9 L1216.6 981.7 L1213.9 981.8 L1213.9 979.0 L1225.1 967.0 Z"/><text transform="translate(1236.30 1005.60) scale(0.575 0.561)">2</text><text transform="translate(1268.21 1005.60) scale(0.510 0.533)">(</text><text transform="translate(1285.09 1005.60) scale(0.517 0.561)">W</text><text transform="translate(1336.47 1005.60) scale(0.470 0.533)">)</text><path class="t" d="M799.4 1301.6 L799.4 1340.2 L794.0 1340.2 L794.0 1311.5 L786.8 1316.3 L784.1 1316.4 L784.1 1313.6 L795.3 1301.6 Z"/><text transform="translate(808.47 1340.20) scale(0.530 0.561)">4</text><text transform="translate(838.91 1340.20) scale(0.510 0.533)">(</text><text transform="translate(854.41 1340.20) scale(0.555 0.561)">F</text><text transform="translate(886.00 1340.20) scale(0.575 0.561)">2</text><text transform="translate(919.87 1340.20) scale(0.470 0.533)">)</text><text transform="translate(1159.77 1193.50) scale(0.530 0.561)">4</text><text transform="translate(1189.29 1193.50) scale(0.535 0.561)">s</text><text transform="translate(433.46 1332.90) scale(0.554 0.561)">N</text></g>
</svg>
</body></html>
